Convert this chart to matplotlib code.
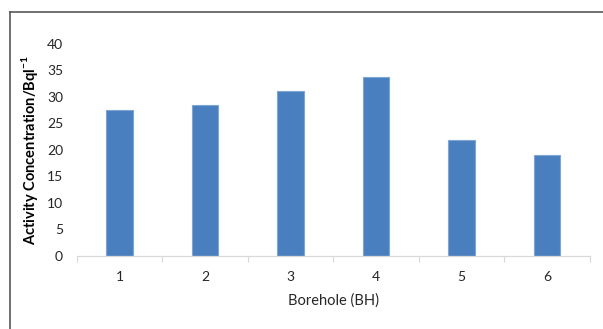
import numpy as np
import matplotlib.pyplot as plt
from matplotlib.lines import Line2D

# borehole activity concentrations
boreholes = [1, 2, 3, 4, 5, 6]
activity = [27.5, 28.4, 31.2, 33.7, 21.8, 19.0]
yticks = [0, 5, 10, 15, 20, 25, 30, 35, 40]

plt.rcParams['font.family'] = ['Lato', 'DejaVu Sans']
plt.rcParams['mathtext.fontset'] = 'custom'
plt.rcParams['mathtext.bf'] = 'Lato:bold'
plt.rcParams['mathtext.rm'] = 'Lato'

fig = plt.figure(figsize=(6.03, 3.29), dpi=100)
ax = fig.add_axes([0.1277, 0.2219, 0.8507, 0.6444])

ax.bar(boreholes, activity, width=0.31, color='#4a7fbf',
       edgecolor='#7ea5d4', linewidth=0.8, zorder=2)

ax.set_xlim(0.5, 6.5)
ax.set_ylim(0, 40)
ax.set_yticks(yticks)
ax.set_xticks(boreholes)
ax.set_xticks(np.arange(0.5, 7.0, 1.0), minor=True)
ax.tick_params(axis='x', which='major', length=0, pad=11, labelsize=10,
               labelcolor='#262626')
ax.tick_params(axis='x', which='minor', length=4, width=0.8, color='#d9d9d9')
ax.tick_params(axis='y', length=0, pad=10, labelsize=10, labelcolor='#262626')

for s in ['top', 'right', 'left']:
    ax.spines[s].set_visible(False)
ax.spines['bottom'].set_color('#d9d9d9')
ax.spines['bottom'].set_linewidth(0.9)

ax.set_xlabel('Borehole (BH)', fontsize=10.5, color='#262626', labelpad=7)
ax.set_ylabel(r'Activity Concentration/Bql$^{\mathbf{-1}}$', fontsize=10.5,
              fontweight='bold', color='#000000', labelpad=5)

# outer frame (top and left only)
fig.add_artist(Line2D([0.0166, 1.0], [0.9635, 0.9635], color='#595959',
                      lw=1.2, transform=fig.transFigure))
fig.add_artist(Line2D([0.0166, 0.0166], [0.0, 0.9635], color='#595959',
                      lw=1.2, transform=fig.transFigure))

fig.savefig('out.png', dpi=100)
